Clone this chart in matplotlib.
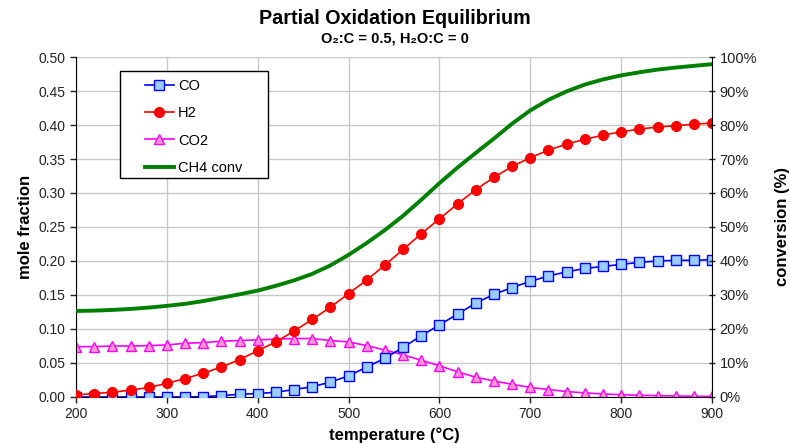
import numpy as np
import matplotlib.pyplot as plt
from matplotlib.patches import Rectangle
from matplotlib.ticker import FuncFormatter, MultipleLocator

plt.rcParams['font.family'] = ['Liberation Sans', 'DejaVu Sans']

# temperature grid (deg C)
temp = np.arange(200, 901, 20)

# mole fractions
co = [0.000, 0.000, 0.000, 0.000, 0.000, 0.000, 0.000, 0.0005, 0.002, 0.004,
      0.005, 0.007, 0.011, 0.015, 0.022, 0.031, 0.044, 0.057, 0.073, 0.090,
      0.106, 0.122, 0.138, 0.151, 0.161, 0.170, 0.178, 0.184, 0.189, 0.192,
      0.195, 0.198, 0.200, 0.201, 0.201, 0.202]
h2 = [0.003, 0.005, 0.007, 0.010, 0.014, 0.020, 0.027, 0.035, 0.044, 0.055,
      0.068, 0.081, 0.097, 0.114, 0.132, 0.152, 0.172, 0.194, 0.217, 0.240,
      0.262, 0.284, 0.305, 0.323, 0.339, 0.352, 0.363, 0.372, 0.379, 0.385,
      0.390, 0.394, 0.397, 0.399, 0.401, 0.403]
co2 = [0.074, 0.074, 0.075, 0.075, 0.0755, 0.0765, 0.079, 0.080, 0.082, 0.083,
       0.084, 0.085, 0.086, 0.086, 0.083, 0.081, 0.0755, 0.069, 0.062, 0.054,
       0.046, 0.037, 0.029, 0.0235, 0.0186, 0.014, 0.011, 0.008, 0.006, 0.0044,
       0.0034, 0.0025, 0.002, 0.0015, 0.001, 0.0008]
# CH4 conversion (%)
ch4_conv = [25.3, 25.4, 25.6, 25.9, 26.3, 26.8, 27.4, 28.2, 29.2, 30.2,
            31.3, 32.7, 34.3, 36.2, 38.7, 41.8, 45.3, 49.1, 53.3, 58.0,
            62.9, 67.5, 71.8, 76.0, 80.4, 84.3, 87.4, 89.9, 91.9, 93.4,
            94.6, 95.5, 96.3, 96.9, 97.4, 97.9]

fig = plt.figure(figsize=(7.9, 4.44), dpi=100)
ax = fig.add_axes([0.0962, 0.1059, 0.8051, 0.7657])
ax2 = ax.twinx()

l1, = ax.plot(temp, co, color='#0000ff', lw=1.2, marker='s', ms=7,
              mfc='#99ccff', mec='#0000ff', mew=1.0, label='CO', zorder=3)
l2, = ax.plot(temp, h2, color='#ff0000', lw=1.2, marker='o', ms=7,
              mfc='#ff0000', mec='#ff0000', label='H2', zorder=4)
l3, = ax.plot(temp, co2, color='#ff00ff', lw=1.2, marker='^', ms=7,
              mfc='#ff99cc', mec='#ff00ff', mew=1.0, label='CO2', zorder=2)
l4, = ax2.plot(temp, ch4_conv, color='#008000', lw=2.8, label='CH4 conv')

ax.set_xlim(200, 900)
ax.set_ylim(0, 0.5)
ax2.set_ylim(0, 100)
ax.xaxis.set_major_locator(MultipleLocator(100))
ax.yaxis.set_major_locator(MultipleLocator(0.05))
ax2.yaxis.set_major_locator(MultipleLocator(10))
ax.yaxis.set_major_formatter(FuncFormatter(lambda v, p: f"{v:.2f}"))
ax2.yaxis.set_major_formatter(FuncFormatter(lambda v, p: f"{v:.0f}%"))

ax.grid(True, color='#c8c8c8', lw=1.0)
ax.set_axisbelow(True)
for a in (ax, ax2):
    a.spines['top'].set_visible(False)
ax2.spines['left'].set_visible(False)
ax2.spines['bottom'].set_visible(False)
ax.spines['right'].set_visible(False)

ax.tick_params(axis='both', labelsize=10, colors='#222222', length=4, width=1)
ax2.tick_params(axis='y', labelsize=10.5, colors='#222222', length=4, width=1,
                direction='inout')

ax.set_xlabel('temperature (°C)', fontsize=12, fontweight='bold', labelpad=4)
ax.set_ylabel('mole fraction', fontsize=12, fontweight='bold', labelpad=4)
ax2.set_ylabel('conversion (%)', fontsize=12, fontweight='bold', labelpad=13)

fig.text(0.5, 0.958, 'Partial Oxidation Equilibrium', ha='center',
         va='center', fontsize=14.2, fontweight='bold')
fig.text(0.5, 0.913, 'O₂:C = 0.5, H₂O:C = 0', ha='center', va='center',
         fontsize=10.5, fontweight='bold')

# legend box drawn separately so it can have wide side padding
ax2.add_patch(Rectangle((0.069, 0.644), 0.233, 0.315, transform=ax2.transAxes,
                        facecolor='white', edgecolor='black', lw=1.0,
                        zorder=9))
leg = ax2.legend(handles=[l1, l2, l3, l4], loc='upper left',
                 bbox_to_anchor=(0.108, 0.936), fontsize=10.5, frameon=False,
                 labelspacing=0.92, handlelength=2.0, handletextpad=0.3,
                 borderpad=0, borderaxespad=0)
leg.set_zorder(10)

fig.savefig('out.png', dpi=100)
